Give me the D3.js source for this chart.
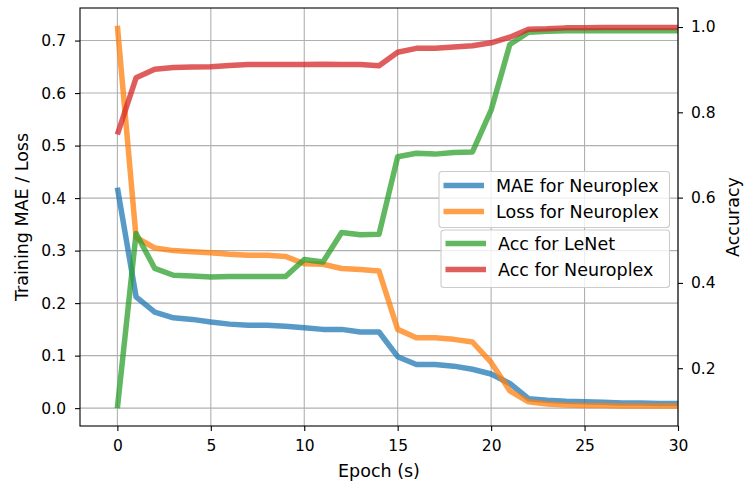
<!DOCTYPE html>
<html>
<head>
<meta charset="utf-8">
<script src="https://d3js.org/d3.v7.min.js"></script>
<style>
  body { margin: 0; background: #fff; }
  text { font-family: 'DejaVu Sans', sans-serif; fill: #000; }
  .grid line { stroke: #b0b0b0; stroke-width: 1.1px; }
  .axis path, .axis line { stroke: #000; stroke-width: 1.1px; }
  .axis text { font-size: 15.5px; }
  .label { font-size: 17.5px; }
</style>
</head>
<body>
<script>
// epochs 0..30
var epochs = d3.range(0, 31);

// left axis series
var maeNeuroplex = [0.420, 0.212, 0.183, 0.172, 0.169, 0.164, 0.160, 0.158, 0.158, 0.156,
  0.153, 0.150, 0.150, 0.145, 0.145, 0.098, 0.083, 0.083, 0.080, 0.074,
  0.065, 0.047, 0.018, 0.015, 0.013, 0.012, 0.011, 0.010, 0.010, 0.009, 0.009];
var lossNeuroplex = [0.728, 0.325, 0.305, 0.300, 0.298, 0.296, 0.293, 0.291, 0.291, 0.289,
  0.275, 0.274, 0.266, 0.264, 0.261, 0.150, 0.134, 0.134, 0.131, 0.126,
  0.087, 0.033, 0.012, 0.008, 0.006, 0.005, 0.005, 0.004, 0.004, 0.004, 0.004];

// right axis series
var accLeNet = [0.106, 0.516, 0.434, 0.418, 0.416, 0.414, 0.415, 0.415, 0.415, 0.415,
  0.455, 0.449, 0.518, 0.513, 0.514, 0.696, 0.704, 0.702, 0.706, 0.707,
  0.805, 0.959, 0.988, 0.990, 0.991, 0.991, 0.991, 0.991, 0.991, 0.991, 0.991];
var accNeuroplex = [0.748, 0.881, 0.901, 0.905, 0.906, 0.907, 0.910, 0.912, 0.912, 0.912,
  0.912, 0.913, 0.912, 0.912, 0.909, 0.941, 0.950, 0.950, 0.953, 0.956,
  0.963, 0.976, 0.995, 0.996, 0.998, 0.998, 0.999, 0.999, 0.999, 0.999, 0.999];

var xTicks = [0, 5, 10, 15, 20, 25, 30];
var leftTicks = [0.0, 0.1, 0.2, 0.3, 0.4, 0.5, 0.6, 0.7];
var rightTicks = [0.2, 0.4, 0.6, 0.8, 1.0];

var W = 744, H = 485;
var margin = {top: 8, right: 66, bottom: 59, left: 80};

var svg = d3.select("body").append("svg")
  .attr("width", W).attr("height", H);

var x = d3.scaleLinear().domain([-2, 30]).range([margin.left, W - margin.right]);
var yL = d3.scaleLinear().domain([-0.034, 0.762]).range([H - margin.bottom, margin.top]);
var yR = d3.scaleLinear().domain([0.0645, 1.0446]).range([H - margin.bottom, margin.top]);

//grid
var grid = svg.append("g").attr("class", "grid");
grid.selectAll(".vx").data(xTicks).enter().append("line")
  .attr("x1", function(d) { return x(d); }).attr("x2", function(d) { return x(d); })
  .attr("y1", margin.top).attr("y2", H - margin.bottom);
grid.selectAll(".hy").data(leftTicks).enter().append("line")
  .attr("x1", margin.left).attr("x2", W - margin.right)
  .attr("y1", function(d) { return yL(d); }).attr("y2", function(d) { return yL(d); });

var colors = {mae: "#1f77b4", loss: "#ff7f0e", lenet: "#2ca02c", neuro: "#d62728"};

function drawLine(values, yScale, color) {
  var line = d3.line()
    .x(function(d, i) { return x(epochs[i]); })
    .y(function(d) { return yScale(d); });
  svg.append("path")
    .datum(values)
    .attr("d", line)
    .attr("fill", "none")
    .attr("stroke", color)
    .attr("stroke-width", 5.5)
    .attr("stroke-opacity", 0.75)
    .attr("stroke-linejoin", "round");
}

drawLine(maeNeuroplex, yL, colors.mae);
drawLine(lossNeuroplex, yL, colors.loss);

//legend helper
function legend(items, x0, y0, w, h, firstRow) {
  var rowH = 26;
  var g = svg.append("g").attr("transform", "translate(" + x0 + "," + y0 + ")");
  g.append("rect")
    .attr("width", w).attr("height", h)
    .attr("rx", 3).attr("ry", 3)
    .attr("fill", "#fff").attr("fill-opacity", 0.8)
    .attr("stroke", "#cccccc").attr("stroke-width", 1.1);
  items.forEach(function(it, i) {
    var cy = firstRow + i * rowH;
    g.append("line")
      .attr("x1", 4.5).attr("x2", 45)
      .attr("y1", cy).attr("y2", cy)
      .attr("stroke", it.color).attr("stroke-width", 5.5).attr("stroke-opacity", 0.75);
    g.append("text")
      .attr("x", 57).attr("y", cy).attr("dy", "0.35em")
      .attr("class", "label")
      .text(it.label);
  });
}

legend([{label: "MAE for Neuroplex", color: colors.mae},
        {label: "Loss for Neuroplex", color: colors.loss}], 439, 171.5, 230.5, 56, 14);

drawLine(accLeNet, yR, colors.lenet);
drawLine(accNeuroplex, yR, colors.neuro);

legend([{label: "Acc for LeNet", color: colors.lenet},
        {label: "Acc for Neuroplex", color: colors.neuro}], 441, 230, 228.5, 57.5, 13.5);

//axes
svg.append("g").attr("class", "axis")
  .attr("transform", "translate(0," + (H - margin.bottom) + ")")
  .call(d3.axisBottom(x).tickValues(xTicks).tickSize(5).tickPadding(9).tickFormat(d3.format("d")));
svg.append("g").attr("class", "axis")
  .attr("transform", "translate(" + margin.left + ",0)")
  .call(d3.axisLeft(yL).tickValues(leftTicks).tickSize(5).tickPadding(9).tickFormat(d3.format(".1f")));
svg.append("g").attr("class", "axis")
  .attr("transform", "translate(" + (W - margin.right) + ",0)")
  .call(d3.axisRight(yR).tickValues(rightTicks).tickSize(5).tickPadding(8).tickFormat(d3.format(".1f")));
svg.selectAll(".axis .domain").remove();

//frame
svg.append("rect")
  .attr("x", margin.left).attr("y", margin.top)
  .attr("width", W - margin.right - margin.left)
  .attr("height", H - margin.bottom - margin.top)
  .attr("fill", "none").attr("stroke", "#000").attr("stroke-width", 1.1);

//labels
svg.append("text")
  .attr("class", "label")
  .attr("x", (margin.left + W - margin.right) / 2).attr("y", 476.5)
  .attr("text-anchor", "middle")
  .text("Epoch (s)");
svg.append("text")
  .attr("class", "label")
  .attr("transform", "translate(28," + ((margin.top + H - margin.bottom) / 2) + ") rotate(-90)")
  .attr("text-anchor", "middle")
  .text("Training MAE / Loss");
svg.append("text")
  .attr("class", "label")
  .attr("transform", "translate(738.5," + ((margin.top + H - margin.bottom) / 2) + ") rotate(-90)")
  .attr("text-anchor", "middle")
  .text("Accuracy");
</script>
</body>
</html>
